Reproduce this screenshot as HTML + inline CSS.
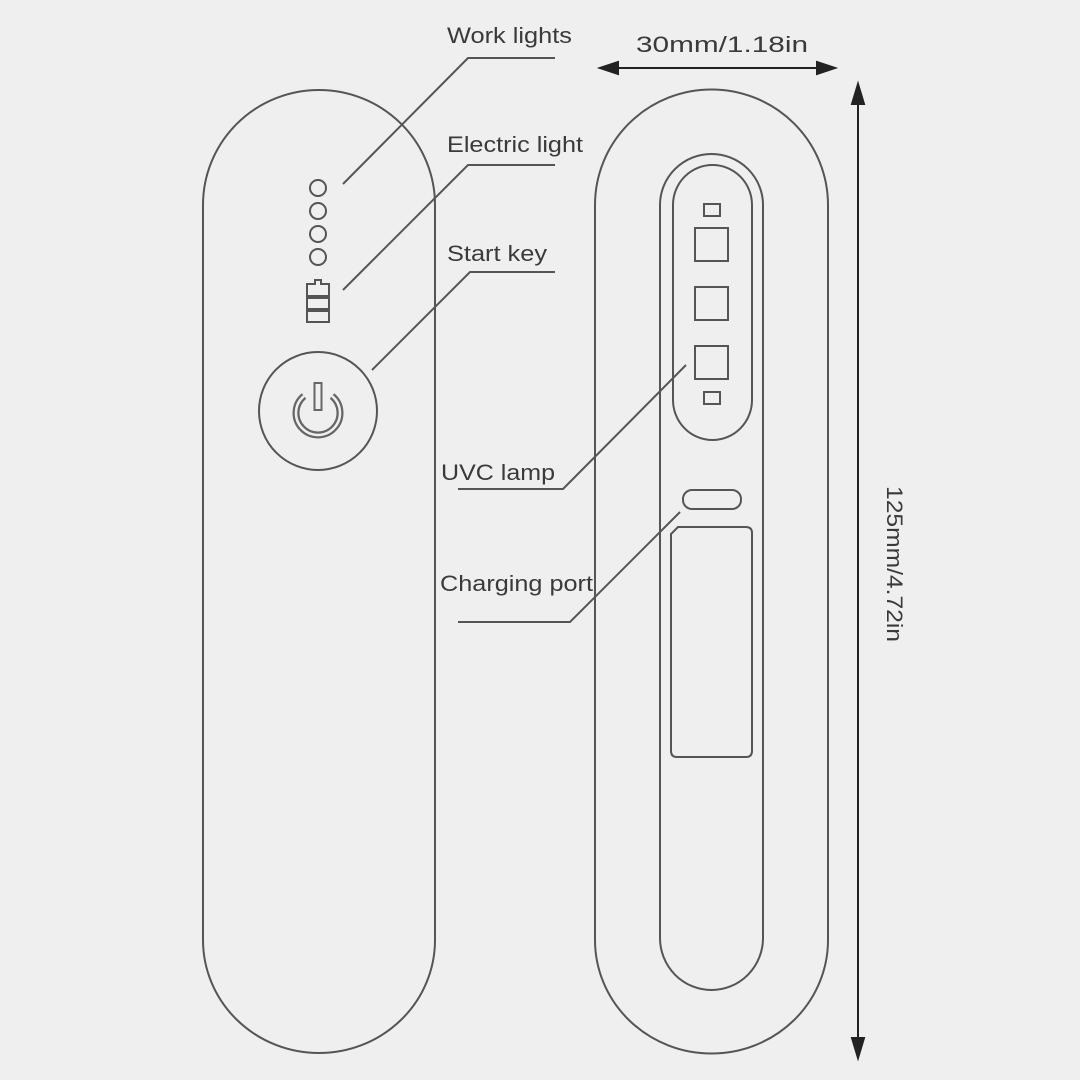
<!DOCTYPE html>
<html><head><meta charset="utf-8"><style>
html,body{margin:0;padding:0;background:#efefef;}
svg{display:block}
text{font-family:"Liberation Sans",Arial,sans-serif;fill:#3a3a3a;}
</style></head><body>
<svg width="1080" height="1080" viewBox="0 0 1080 1080" xmlns="http://www.w3.org/2000/svg">
<rect width="1080" height="1080" fill="#efefef"/>
<g fill="none" stroke="#555" stroke-width="2">
  <path d="M203,205 A116,115 0 0 1 435,205 L435,940 A116,113 0 0 1 203,940 Z"/>
  <circle cx="318" cy="188" r="8"/>
  <circle cx="318" cy="211" r="8"/>
  <circle cx="318" cy="234" r="8"/>
  <circle cx="318" cy="257" r="8"/>
  <path d="M307,284 h8 v-4 h6 v4 h8 v12 h-22 Z"/>
  <rect x="307" y="298" width="22" height="11"/>
  <rect x="307" y="311" width="22" height="11"/>
  <circle cx="318" cy="411" r="59"/>
  <path d="M304,396 A22,22 0 1 0 332,396" stroke-width="7" stroke="#666"/>
  <path d="M304,396 A22,22 0 1 0 332,396" stroke-width="2.5" stroke="#efefef"/>
  <rect x="314.5" y="383" width="7" height="27" stroke-width="2" fill="#efefef" stroke="#666"/>
  <path d="M595,205 A116,115 0 0 1 828,205 L828,940 A116,113 0 0 1 595,940 Z"/>
  <path d="M660,205 A51.5,51 0 0 1 763,205 L763,938 A51.5,52 0 0 1 660,938 Z"/>
  <path d="M673,205 A39.5,40 0 0 1 752,205 L752,400 A39.5,40 0 0 1 673,400 Z"/>
  <rect x="704" y="204" width="16" height="12"/>
  <rect x="695" y="228" width="33" height="33"/>
  <rect x="695" y="287" width="33" height="33"/>
  <rect x="695" y="346" width="33" height="33"/>
  <rect x="704" y="392" width="16" height="12"/>
  <rect x="683" y="490" width="58" height="19" rx="9"/>
  <path d="M678,527 H746 Q752,527 752,533 V751 Q752,757 746,757 H677 Q671,757 671,751 V534 Z"/>
  <polyline points="343,184 468,58 555,58"/>
  <polyline points="343,290 468,165 555,165"/>
  <polyline points="372,370 470,272 555,272"/>
  <polyline points="686,365 563,489 458,489"/>
  <polyline points="680,512 570,622 458,622"/>
</g>
<g stroke="#222" stroke-width="2" fill="#222">
  <line x1="610" y1="68" x2="825" y2="68"/>
  <path d="M600,68 L618,62 L618,74 Z"/>
  <path d="M835,68 L817,62 L817,74 Z"/>
  <line x1="858" y1="95" x2="858" y2="1048"/>
  <path d="M858,84 L852,104 L864,104 Z"/>
  <path d="M858,1058 L852,1038 L864,1038 Z"/>
</g>
<g font-size="22">
  <text x="447" y="43" textLength="125" lengthAdjust="spacingAndGlyphs">Work lights</text>
  <text x="447" y="152" textLength="136" lengthAdjust="spacingAndGlyphs">Electric light</text>
  <text x="447" y="261" textLength="100" lengthAdjust="spacingAndGlyphs">Start key</text>
  <text x="441" y="480" textLength="114" lengthAdjust="spacingAndGlyphs">UVC lamp</text>
  <text x="440" y="591" textLength="153" lengthAdjust="spacingAndGlyphs">Charging port</text>
  <text x="636" y="52" textLength="172" lengthAdjust="spacingAndGlyphs">30mm/1.18in</text>
  <text transform="translate(887,486) rotate(90)" textLength="156" lengthAdjust="spacingAndGlyphs">125mm/4.72in</text>
</g>
</svg>
</body></html>
